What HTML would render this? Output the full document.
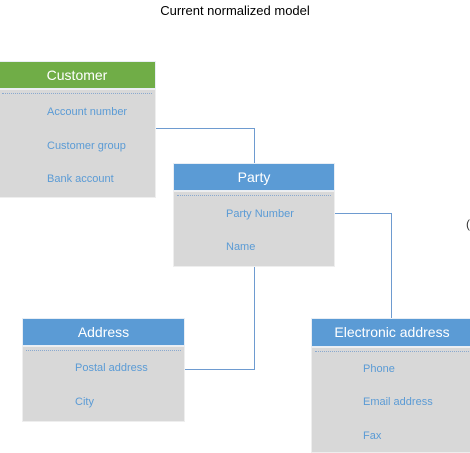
<!DOCTYPE html>
<html><head><style>
body{margin:0;width:470px;height:451px;background:#fff;position:relative;overflow:hidden;font-family:"Liberation Sans",sans-serif}
.t{position:absolute;left:0;width:470px;top:3px;text-align:center;font-size:13px;color:#000}
.h{position:absolute;color:#fff;font-size:14px;text-align:center;box-sizing:border-box;border:1px solid #e8eef5}
.b{position:absolute;background:#d8d8d8;border:1px solid #eee;box-sizing:border-box}
.d{position:absolute;left:3px;right:3px;top:3px;border-top:1px dotted #8aa9cf}
.f{position:absolute;font-size:11px;color:#5b9bd5}
.l{position:absolute;background:#6e9bd0}
</style></head><body>
<div class="t">Current normalized model</div>
<div class="l" style="left:155px;top:128px;width:100px;height:1px"></div>
<div class="l" style="left:254px;top:128px;width:1px;height:36px"></div>
<div class="l" style="left:254px;top:266px;width:1px;height:104px"></div>
<div class="l" style="left:184px;top:369px;width:71px;height:1px"></div>
<div class="l" style="left:334px;top:213px;width:58px;height:1px"></div>
<div class="l" style="left:391px;top:213px;width:1px;height:106px"></div>

<div class="h" style="left:-2px;top:61px;width:158px;height:28px;line-height:26px;background:#70ad47">Customer</div>
<div class="b" style="left:-2px;top:89px;width:158px;height:109px"><div class="d"></div>
<span class="f" style="left:48px;top:16px">Account number</span>
<span class="f" style="left:48px;top:50px">Customer group</span>
<span class="f" style="left:48px;top:83px">Bank account</span></div>

<div class="h" style="left:173px;top:163px;width:162px;height:28px;line-height:26px;background:#5b9bd5">Party</div>
<div class="b" style="left:173px;top:191px;width:162px;height:76px"><div class="d"></div>
<span class="f" style="left:52px;top:16px">Party Number</span>
<span class="f" style="left:52px;top:49px">Name</span></div>

<div class="h" style="left:22px;top:318px;width:163px;height:28px;line-height:26px;background:#5b9bd5">Address</div>
<div class="b" style="left:22px;top:346px;width:163px;height:76px"><div class="d"></div>
<span class="f" style="left:52px;top:15px">Postal address</span>
<span class="f" style="left:52px;top:49px">City</span></div>

<div class="h" style="left:311px;top:318px;width:162px;height:29px;line-height:27px;background:#5b9bd5">Electronic address</div>
<div class="b" style="left:311px;top:347px;width:162px;height:106px"><div class="d"></div>
<span class="f" style="left:51px;top:15px">Phone</span>
<span class="f" style="left:51px;top:48px">Email address</span>
<span class="f" style="left:51px;top:82px">Fax</span></div>
<div style="position:absolute;left:466px;top:217px;font-size:12px;color:#333">(</div>
</body></html>
